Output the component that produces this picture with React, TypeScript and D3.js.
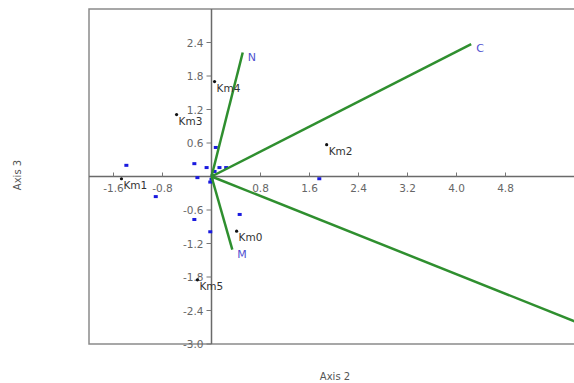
import * as d3 from "d3";

// Axis 2 (x) / Axis 3 (y) biplot
const xTicks = [-1.6, -0.8, 0.8, 1.6, 2.4, 3.2, 4.0, 4.8];
const yTicks = [2.4, 1.8, 1.2, 0.6, -0.6, -1.2, -1.8, -2.4, -3.0];

const vectorNames = ["N", "C", "M", ""];
const vectorX = [0.51, 4.24, 0.34, 6.4];
const vectorY = [2.22, 2.37, -1.31, -2.8];

const siteNames = ["Km0", "Km1", "Km2", "Km3", "Km4", "Km5"];
const siteX = [0.41, -1.47, 1.88, -0.57, 0.05, -0.23];
const siteY = [-0.98, -0.04, 0.57, 1.11, 1.7, -1.85];

const speciesX = [-1.39, -0.28, 0.07, -0.08, 0.13, 0.24, -0.23, 0.05, 0.02, -0.02, 1.76, -0.91, -0.28, 0.46, -0.02, 0.0];
const speciesY = [0.2, 0.23, 0.52, 0.16, 0.16, 0.16, -0.02, 0.09, 0.02, -0.99, -0.04, -0.36, -0.77, -0.68, -0.1, -0.05];

export default function App() {
  const width = 574;
  const height = 383;
  const x = d3.scaleLinear().domain([-2, 6]).range([89, 579]);
  const y = d3.scaleLinear().domain([-3, 3]).range([344, 9]);
  const x0 = x(0);
  const y0 = y(0);
  const font = "'DejaVu Sans', Arial, sans-serif";

  return (
    <svg
      width={width}
      height={height}
      style={{ position: "absolute", left: 0, top: 0, background: "#fff" }}
      fontFamily={font}
    >
      <defs>
        <clipPath id="plot">
          <rect x={x(-2)} y={y(3)} width={x(6) - x(-2)} height={y(-3) - y(3)} />
        </clipPath>
      </defs>

      {/* frame */}
      <rect
        x={x(-2)}
        y={y(3)}
        width={x(6) - x(-2)}
        height={y(-3) - y(3)}
        fill="none"
        stroke="#8a8a8a"
        strokeWidth={1.5}
      />

      {/* zero axes */}
      <line x1={x(-2)} x2={x(6)} y1={y0} y2={y0} stroke="#6a6a6a" strokeWidth={1.5} />
      <line x1={x0} x2={x0} y1={y(3)} y2={y(-3)} stroke="#6a6a6a" strokeWidth={1.5} />

      {/* x ticks */}
      {xTicks.map((t) => (
        <g key={"x" + t}>
          <line x1={x(t)} x2={x(t)} y1={y0} y2={y0 - 4} stroke="#777" strokeWidth={1} />
          <text x={x(t)} y={y0 + 15} textAnchor="middle" fontSize={10.5} fill="#666">
            {t.toFixed(1)}
          </text>
        </g>
      ))}

      {/* y ticks */}
      {yTicks.map((t) => (
        <g key={"y" + t}>
          <line x1={x0 - 5} x2={x0} y1={y(t)} y2={y(t)} stroke="#777" strokeWidth={1} />
          <text x={x0 - 8} y={y(t) + 4} textAnchor="end" fontSize={10.5} fill="#666">
            {t.toFixed(1)}
          </text>
        </g>
      ))}

      {/* species points */}
      {speciesX.map((sx, i) => (
        <rect
          key={"s" + i}
          x={x(sx) - 2}
          y={y(speciesY[i]) - 1.5}
          width={4}
          height={3}
          fill="#1a1adf"
        />
      ))}

      {/* environmental vectors */}
      <g clipPath="url(#plot)">
        {vectorX.map((vx, i) => (
          <g key={"v" + i}>
            <line
              x1={x0}
              y1={y0}
              x2={x(vx)}
              y2={y(vectorY[i])}
              stroke="#2f8f2f"
              strokeWidth={2.5}
            />
            <text x={x(vx) + 5} y={y(vectorY[i]) + 8} fontSize={11} fill="#5050d0">
              {vectorNames[i]}
            </text>
          </g>
        ))}
      </g>

      {/* sites */}
      {siteX.map((sx, i) => (
        <g key={"k" + i}>
          <circle cx={x(sx)} cy={y(siteY[i])} r={1.6} fill="#111" />
          <text x={x(sx) + 2} y={y(siteY[i]) + 10} fontSize={10.5} fill="#333">
            {siteNames[i]}
          </text>
        </g>
      ))}

      {/* axis titles */}
      <text x={335} y={380} textAnchor="middle" fontSize={10} fill="#555">
        Axis 2
      </text>
      <text
        transform={`translate(21, 175) rotate(-90)`}
        textAnchor="middle"
        fontSize={10}
        fill="#555"
      >
        Axis 3
      </text>
    </svg>
  );
}
